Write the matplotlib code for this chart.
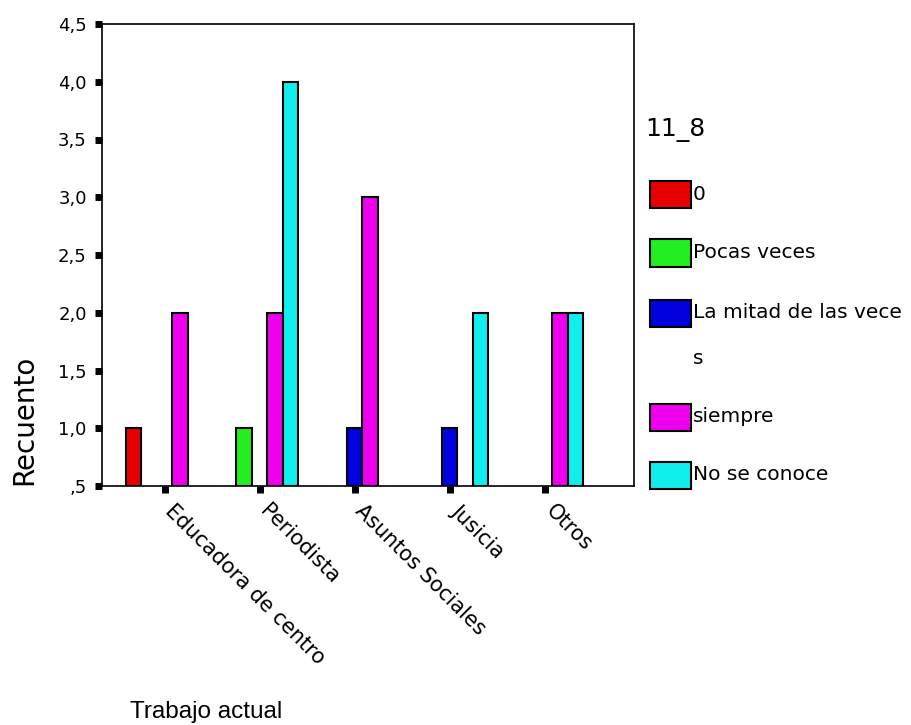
import matplotlib
matplotlib.use("Agg")
import matplotlib.pyplot as plt
import matplotlib.transforms as mtransforms
from matplotlib.patches import Rectangle
import numpy as np

plt.rcParams['font.family'] = ['DejaVu Sans']

# data
categories = ['Educadora de centro', 'Periodista', 'Asuntos Sociales',
              'Jusicia', 'Otros']
series = ['0', 'Pocas veces', 'La mitad de las veces', 'siempre',
          'No se conoce']
colors = ['#e60000', '#22ee22', '#0000e0', '#ee00ee', '#11eeee']
# counts per series (None = no bar)
counts = [
    [1, None, None, None, None],     # 0
    [None, 1, None, None, None],     # Pocas veces
    [None, None, 1, 1, None],        # La mitad de las veces
    [2, 2, 3, None, 2],              # siempre
    [None, 4, None, 2, 2],           # No se conoce
]
y_ticks = [0.5, 1.0, 1.5, 2.0, 2.5, 3.0, 3.5, 4.0, 4.5]
y_tick_labels = [',5', '1,0', '1,5', '2,0', '2,5', '3,0', '3,5', '4,0', '4,5']

W, H = 911, 725
fig = plt.figure(figsize=(W / 100, H / 100), dpi=100)
ax = fig.add_axes([102 / W, 1 - 486 / H, (634 - 102) / W, (486 - 24) / H])

base = 0.5
bw = 0.163
x = np.arange(len(categories))
for k, (name, col, vals) in enumerate(zip(series, colors, counts)):
    for i, v in enumerate(vals):
        if v is None:
            continue
        ax.bar(x[i] + (k - 2) * bw, v - base, bottom=base, width=bw,
               color=col, edgecolor='black', linewidth=1.5)

ax.set_xlim(-0.66, 4.94)
ax.set_ylim(0.5, 4.5)
ax.set_yticks(y_ticks, y_tick_labels, fontsize=13)
ax.set_xticks(x, categories, rotation=-45, ha='left', va='center',
              rotation_mode='anchor', fontsize=15)
ax.tick_params(axis='y', length=5, width=5, pad=6)
ax.tick_params(axis='x', length=5, width=5, pad=11)
shift = mtransforms.ScaledTranslation(4 / 100, 0, fig.dpi_scale_trans)
for lab in ax.get_xticklabels():
    lab.set_transform(lab.get_transform() + shift)
for s in ax.spines.values():
    s.set_linewidth(1.2)

fig.text(24 / W, 1 - 420 / H, 'Recuento', rotation=90, ha='center',
         va='center', fontsize=20)
fig.text(130 / W, 1 - 712 / H, 'Trabajo actual', ha='left', va='center',
         fontsize=17.5, family='Liberation Sans')

# legend drawn by hand, SPSS style
fig.text(645 / W, 1 - 130 / H, '11_8', ha='left', va='center', fontsize=18)
legend_y = [194, 253, 313, 417, 475]
for name, col, yc in zip(series, colors, legend_y):
    fig.add_artist(Rectangle((650 / W, 1 - (yc + 13.5) / H), 41 / W, 27 / H,
                             facecolor=col, edgecolor='black', linewidth=1.5,
                             transform=fig.transFigure))
    label = name
    if name == 'La mitad de las veces':
        label = 'La mitad de las vece'
        fig.text(693 / W, 1 - 358 / H, 's', ha='left', va='center',
                 fontsize=14.5)
    fig.text(693 / W, 1 - yc / H, label, ha='left', va='center',
             fontsize=14.5)

fig.savefig('out.png', dpi=100)
